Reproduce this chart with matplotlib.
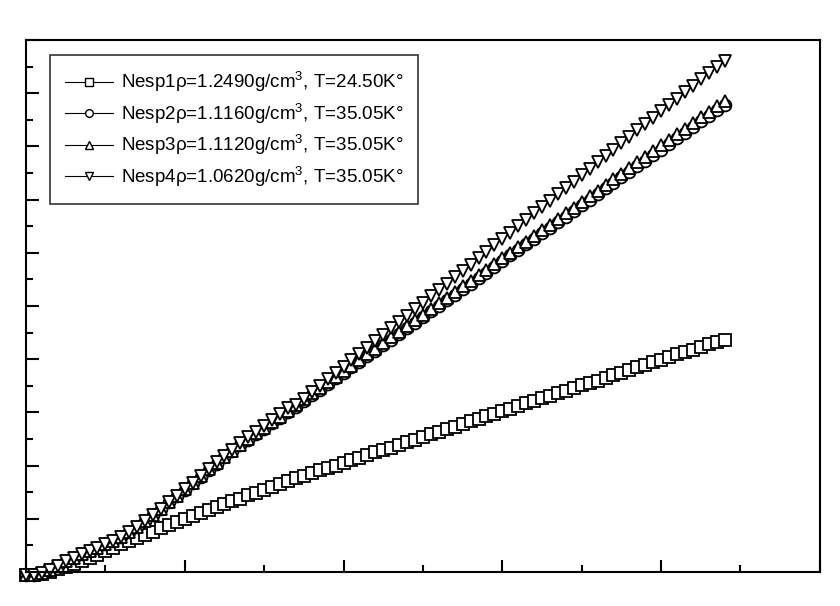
import numpy as np
import matplotlib.pyplot as plt
from matplotlib.ticker import MultipleLocator, NullFormatter

# x step of 0.05 between successive markers
STEP = 0.05

nesp1 = [-0.05, -0.05, -0.03, 0.0, 0.05, 0.10, 0.16, 0.21, 0.27, 0.33, 0.39, 0.45, 0.52, 0.58,
         0.64, 0.70, 0.76, 0.82, 0.88, 0.94, 1.00, 1.05, 1.11, 1.16, 1.22, 1.27, 1.33, 1.38,
         1.44, 1.49, 1.54, 1.60, 1.65, 1.71, 1.76, 1.81, 1.86, 1.91, 1.96, 2.00, 2.05, 2.10,
         2.15, 2.20, 2.25, 2.30, 2.34, 2.39, 2.44, 2.49, 2.54, 2.59, 2.64, 2.68, 2.73, 2.78,
         2.83, 2.88, 2.93, 2.98, 3.02, 3.07, 3.12, 3.17, 3.22, 3.27, 3.31, 3.36, 3.41, 3.46,
         3.51, 3.56, 3.60, 3.65, 3.70, 3.75, 3.80, 3.85, 3.89, 3.94, 3.99, 4.04, 4.09, 4.14,
         4.18, 4.23, 4.28, 4.33, 4.37]

nesp2 = [-0.05, -0.05, -0.02, 0.04, 0.12, 0.20, 0.27, 0.34, 0.40, 0.46, 0.52, 0.58, 0.66, 0.75,
         0.85, 0.96, 1.07, 1.19, 1.31, 1.43, 1.55, 1.67, 1.79, 1.92, 2.04, 2.16, 2.27, 2.38,
         2.48, 2.59, 2.69, 2.80, 2.90, 3.01, 3.11,
         3.22, 3.32, 3.43, 3.53, 3.64, 3.74, 3.85, 3.95, 4.06, 4.16, 4.27, 4.37, 4.48, 4.58,
         4.69, 4.79, 4.90, 5.00, 5.11, 5.21, 5.32, 5.42, 5.53, 5.63, 5.74, 5.84, 5.95, 6.05,
         6.16, 6.26, 6.37, 6.47, 6.58, 6.68, 6.79, 6.89, 7.00, 7.10, 7.21, 7.31, 7.42, 7.52,
         7.63, 7.73, 7.84, 7.94, 8.05, 8.15, 8.26, 8.36, 8.47, 8.57, 8.68, 8.78]

nesp3 = [-0.05, -0.05, -0.02, 0.04, 0.12, 0.20, 0.27, 0.34, 0.40, 0.46, 0.52, 0.58, 0.66, 0.75,
         0.85, 0.96, 1.07, 1.19, 1.31, 1.43, 1.56, 1.68, 1.80, 1.93, 2.05, 2.17, 2.28, 2.39,
         2.50, 2.61, 2.71, 2.82, 2.92, 3.03, 3.14,
         3.25, 3.36, 3.46, 3.57, 3.67, 3.78, 3.88, 3.99, 4.09, 4.20, 4.31, 4.41, 4.52, 4.62,
         4.73, 4.84, 4.94, 5.05, 5.15, 5.26, 5.37, 5.47, 5.58, 5.68, 5.79, 5.90, 6.00, 6.11,
         6.21, 6.32, 6.43, 6.53, 6.64, 6.74, 6.85, 6.96, 7.06, 7.17, 7.27, 7.38, 7.49, 7.59,
         7.70, 7.80, 7.91, 8.02, 8.12, 8.23, 8.33, 8.44, 8.55, 8.65, 8.76, 8.86]

nesp4 = [-0.05, -0.05, -0.02, 0.04, 0.12, 0.20, 0.27, 0.34, 0.40, 0.46, 0.52, 0.58, 0.66, 0.75,
         0.85, 0.96, 1.07, 1.19, 1.31, 1.43, 1.56, 1.68, 1.81, 1.94, 2.06, 2.19, 2.30, 2.42,
         2.53, 2.64, 2.75, 2.86, 2.97, 3.08, 3.14,
         3.26, 3.38, 3.50, 3.62, 3.74, 3.86, 3.98, 4.10, 4.22, 4.34, 4.46, 4.58, 4.70, 4.82,
         4.94, 5.06, 5.18, 5.30, 5.42, 5.54, 5.66, 5.78, 5.90, 6.02, 6.14, 6.26, 6.38, 6.50,
         6.62, 6.74, 6.86, 6.98, 7.10, 7.22, 7.34, 7.46, 7.58, 7.70, 7.82, 7.94, 8.06, 8.18,
         8.30, 8.42, 8.54, 8.66, 8.78, 8.90, 9.02, 9.14, 9.26, 9.38, 9.50, 9.60]

labels = ['Nesp1ρ=1.2490g/cm$^3$, T=24.50K°',
          'Nesp2ρ=1.1160g/cm$^3$, T=35.05K°',
          'Nesp3ρ=1.1120g/cm$^3$, T=35.05K°',
          'Nesp4ρ=1.0620g/cm$^3$, T=35.05K°']
markers = ['s', 'o', '^', 'v']

plt.rcParams['font.family'] = ['Liberation Sans', 'DejaVu Sans']
plt.rcParams['mathtext.fontset'] = 'custom'
plt.rcParams['mathtext.rm'] = 'Liberation Sans'

fig = plt.figure(figsize=(8.4, 6.06), dpi=100)
ax = fig.add_axes([0.031, 0.056, 0.945, 0.878])

for ys, m, lab in zip([nesp1, nesp2, nesp3, nesp4], markers, labels):
    xs = np.arange(len(ys)) * STEP
    ax.plot(xs, ys, color='black', lw=0.8, marker=m, ms=8.5, mfc='white',
            mec='black', mew=1.3, label=lab, clip_on=False)

ax.set_xlim(0, 5)
ax.set_ylim(0, 10)
ax.xaxis.set_major_locator(MultipleLocator(1))
ax.xaxis.set_minor_locator(MultipleLocator(0.5))
ax.yaxis.set_major_locator(MultipleLocator(1))
ax.yaxis.set_minor_locator(MultipleLocator(0.5))
ax.xaxis.set_major_formatter(NullFormatter())
ax.yaxis.set_major_formatter(NullFormatter())
ax.tick_params(which='both', direction='in', top=False, right=False, width=1.5)
ax.tick_params(which='major', length=9)
ax.tick_params(which='minor', length=5)
for s in ax.spines.values():
    s.set_linewidth(1.5)

leg = ax.legend(loc='upper left', bbox_to_anchor=(0.018, 0.99), fontsize=13.5,
                fancybox=False, edgecolor='black', handlelength=2.6,
                labelspacing=0.35, borderpad=0.8, markerscale=0.65,
                handletextpad=0.4)
leg.get_frame().set_linewidth(1.2)
for line in leg.get_lines():
    line.set_markeredgewidth(1.0)

fig.savefig('out.png', dpi=100)
